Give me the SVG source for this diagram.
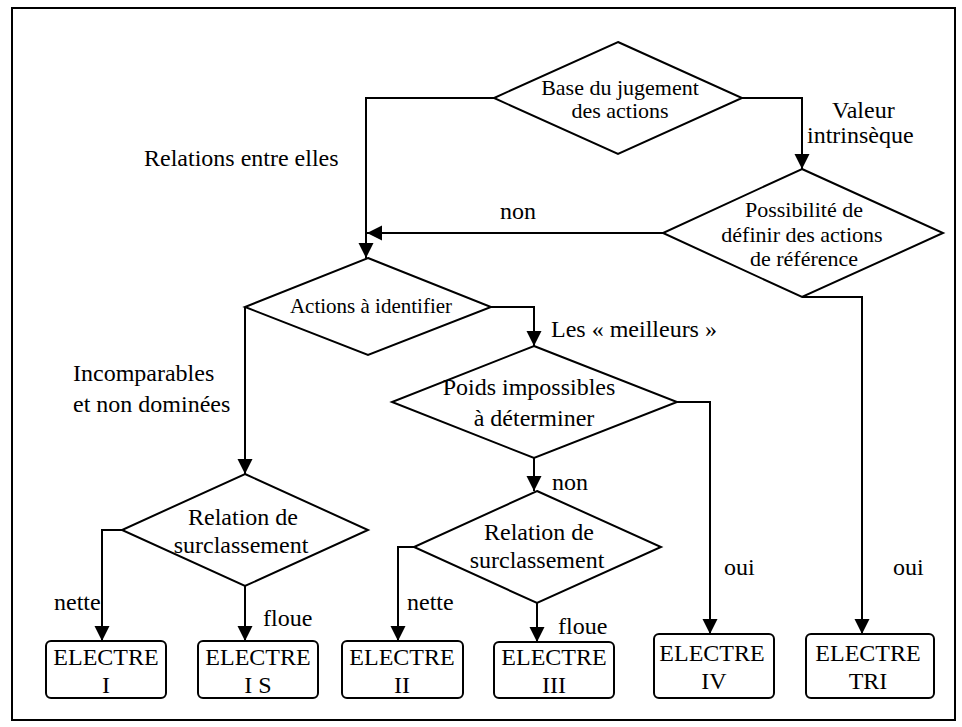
<svg xmlns="http://www.w3.org/2000/svg" width="962" height="727" viewBox="0 0 962 727">
  <style>
    .shape { fill: #ffffff; stroke: #000000; stroke-width: 2; }
    .wire { fill: none; stroke: #000000; stroke-width: 2; }
    .t22 { font-size: 22px; text-anchor: middle; }
    .t21 { font-size: 21px; text-anchor: middle; }
    .t24 { font-size: 24px; text-anchor: middle; }
    .lbl { font-size: 24px; }
  </style>
  <defs>
    <marker id="arrow" markerUnits="userSpaceOnUse" markerWidth="16" markerHeight="16" refX="15" refY="7.5" orient="auto">
      <path d="M0,0 L15,7.5 L0,15 z" fill="#000000"/>
    </marker>
  </defs>

  <rect x="12" y="8" width="943" height="712" fill="#ffffff" stroke="#000000" stroke-width="2"/>

  <!-- connectors -->
  <g id="connectors" class="wire" marker-end="url(#arrow)">
    <path d="M494,98 H366 V258"/>
    <path d="M742,98 H802 V169"/>
    <path d="M663,233 H367"/>
    <path d="M802,297 H862 V634"/>
    <path d="M245,307 V474"/>
    <path d="M491,307 H534 V346"/>
    <path d="M677,402 H710 V634"/>
    <path d="M534,458 V491"/>
    <path d="M122,530 H102 V641"/>
    <path d="M245,586 V641"/>
    <path d="M414,547 H398 V641"/>
    <path d="M537,603 V642"/>
  </g>

  <g font-family="Liberation Serif, Times New Roman, Tinos, Noto Serif, serif" fill="#000000">
  <!-- edge labels -->
  <g id="labels" class="lbl">
    <text x="832" y="118">Valeur</text>
    <text x="807" y="143">intrinsèque</text>
    <text x="144" y="166">Relations entre elles</text>
    <text x="500" y="219">non</text>
    <text x="551" y="337">Les « meilleurs »</text>
    <text x="73" y="381">Incomparables</text>
    <text x="73" y="412">et non dominées</text>
    <text x="552" y="490">non</text>
    <text x="724" y="575">oui</text>
    <text x="893" y="575">oui</text>
    <text x="54" y="610">nette</text>
    <text x="263" y="626">floue</text>
    <text x="407" y="610">nette</text>
    <text x="558" y="634">floue</text>
  </g>

  <!-- decision nodes -->
  <g id="base-jugement">
    <polygon class="shape" points="618,42 742,98 618,154 494,98"/>
    <text class="t22" x="620" y="95">Base du jugement</text>
    <text class="t22" x="620" y="118">des actions</text>
  </g>

  <g id="actions-reference">
    <polygon class="shape" points="802,169 943,233 802,297 663,233"/>
    <text class="t22" x="804" y="217">Possibilité de</text>
    <text class="t22" x="802" y="242">définir des actions</text>
    <text class="t22" x="804" y="266">de référence</text>
  </g>

  <g id="actions-identifier">
    <polygon class="shape" points="368,258 491,307 368,355 245,307"/>
    <text class="t21" x="371" y="313">Actions à identifier</text>
  </g>

  <g id="poids">
    <polygon class="shape" points="534,346 677,402 534,458 392,402"/>
    <text class="t24" x="529" y="395">Poids impossibles</text>
    <text class="t24" x="534" y="426">à déterminer</text>
  </g>

  <g id="relation-1">
    <polygon class="shape" points="245,474 368,530 245,586 122,530"/>
    <text class="t24" x="243" y="525">Relation de</text>
    <text class="t24" x="241" y="553">surclassement</text>
  </g>

  <g id="relation-2">
    <polygon class="shape" points="537,491 661,547 537,603 414,547"/>
    <text class="t24" x="539" y="540">Relation de</text>
    <text class="t24" x="537" y="568">surclassement</text>
  </g>

  <!-- methods -->
  <g id="electre-1">
    <rect class="shape" x="46" y="641" width="120" height="57" rx="5"/>
    <text class="t24" x="106" y="665">ELECTRE</text>
    <text class="t24" x="106" y="693">I</text>
  </g>
  <g id="electre-1s">
    <rect class="shape" x="198" y="641" width="120" height="57" rx="5"/>
    <text class="t24" x="258" y="665">ELECTRE</text>
    <text class="t24" x="258" y="693">I S</text>
  </g>
  <g id="electre-2">
    <rect class="shape" x="342" y="641" width="121" height="57" rx="5"/>
    <text class="t24" x="402" y="665">ELECTRE</text>
    <text class="t24" x="402" y="693">II</text>
  </g>
  <g id="electre-3">
    <rect class="shape" x="494" y="642" width="120" height="56" rx="5"/>
    <text class="t24" x="554" y="665">ELECTRE</text>
    <text class="t24" x="554" y="693">III</text>
  </g>
  <g id="electre-4">
    <rect class="shape" x="654" y="634" width="120" height="64" rx="5"/>
    <text class="t24" x="712" y="661">ELECTRE</text>
    <text class="t24" x="714" y="689">IV</text>
  </g>
  <g id="electre-tri">
    <rect class="shape" x="806" y="634" width="128" height="64" rx="5"/>
    <text class="t24" x="868" y="661">ELECTRE</text>
    <text class="t24" x="868" y="689">TRI</text>
  </g>
  </g>
</svg>
